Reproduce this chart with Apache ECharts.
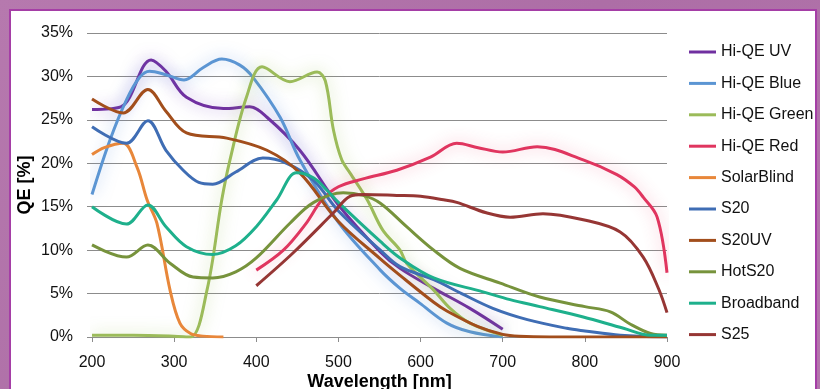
<!DOCTYPE html>
<html>
<head>
<meta charset="utf-8">
<script src="https://cdn.jsdelivr.net/npm/echarts@6/dist/echarts.min.js"></script>
<style>
  html, body { margin: 0; padding: 0; }
  body { width: 820px; height: 389px; overflow: hidden; position: relative;
         background: linear-gradient(135deg, #b679ae 0%, #ad6ea6 50%, #b275ab 100%); }
  #panel { position: absolute; left: 9px; top: 9px; width: 808px; height: 400px;
           background: #ffffff; border: 2.5px solid #a53ea6; box-sizing: border-box; }
  #chart { position: absolute; left: 0; top: 0; width: 820px; height: 389px; }
</style>
</head>
<body>
<div id="panel"></div>
<div id="chart"></div>
<script>
// ---- data (wavelength nm, QE %) ----
const seriesNames = ['Hi-QE UV','Hi-QE Blue','Hi-QE Green','Hi-QE Red','SolarBlind','S20','S20UV','HotS20','Broadband','S25'];
const xTicks = [200, 300, 400, 500, 600, 700, 800, 900];
const yTicks = [0, 5, 10, 15, 20, 25, 30, 35];

const hiQeUV = [[200,26.2],[235,26.5],[272,31.9],[290,30.6],[315,27.6],[360,26.3],[392,26.5],[413,25.3],[453,21.5],[500,15.2],[551,9.8],[575,7.9],[616,5.6],[660,3.3],[700,0.9]];
const hiQeBlue = [[200,16.4],[222,22.7],[242,27.3],[258,29.9],[270,30.6],[290,30.2],[312,29.6],[335,31],[358,32],[380,31.3],[396,29.9],[429,25.3],[453,20.4],[500,13.2],[551,7.7],[575,5.6],[599,3.9],[632,1.6],[660,0.6],[700,0]];
const hiQeGreen = [[200,0.2],[250,0.2],[300,0.1],[320,0],[340,5.4],[358,15.8],[368,20.4],[388,27.6],[407,31.1],[441,29.4],[474,30.5],[484,29.5],[494,23.8],[504,20.4],[514,18.9],[535,15.8],[554,12.3],[575,10],[583,8.5],[616,5.4],[636,3.3],[660,1.6],[700,0.2]];
const hiQeRed = [[400,7.7],[433,10],[460,13],[480,15.8],[500,17.3],[530,18.2],[571,19.2],[612,20.7],[644,22.3],[670,21.8],[700,21.3],[742,21.9],[798,20.4],[839,18.7],[860,17.3],[871,16.1],[888,13.8],[900,7.4]];
const solarBlind = [[200,21],[215,21.8],[238,22.3],[255,19.5],[267,15.8],[279,13.1],[295,5.4],[307,1.6],[320,0.4],[335,0.1],[360,0]];
const s20 = [[200,24.2],[242,22.3],[268,24.9],[290,21.5],[311,19.2],[330,17.8],[347,17.6],[375,19],[408,20.6],[437,20],[470,18],[500,14.5],[551,10],[575,8.1],[616,6.6],[650,5],[688,3.3],[730,2],[778,1],[800,0.7],[843,0.2],[900,0]];
const s20uv = [[200,27.4],[238,25.8],[268,28.5],[290,26],[315,23.5],[364,22.9],[413,21.5],[453,18.9],[500,13.3],[551,9],[575,7.1],[616,4],[632,3.0],[670,1.2],[700,0.3],[720,0.1],[800,0],[900,0]];
const hotS20 = [[200,10.6],[242,9.2],[268,10.6],[295,8.5],[323,6.9],[347,6.8],[375,7.5],[400,9.1],[441,13.1],[470,15.5],[506,16.6],[530,16.3],[551,15.4],[583,12.7],[616,10],[648,7.9],[697,6.2],[745,4.6],[800,3.5],[831,2.9],[855,1.5],[880,0.4],[900,0.2]];
const broadband = [[200,15],[242,13],[268,15.2],[290,12.7],[315,10.4],[347,9.5],[375,10.5],[400,12.7],[425,15.8],[449,18.9],[470,18.3],[486,16.9],[500,15.5],[551,11],[575,9.1],[616,6.8],[676,5.2],[709,4.3],[745,3.5],[798,2.3],[847,1],[880,0.2],[900,0.2]];
const s25 = [[400,5.9],[445,9.7],[494,14.3],[514,16.2],[530,16.4],[571,16.3],[600,16.2],[628,15.8],[644,15.5],[680,14.3],[709,13.8],[749,14.2],[798,13.5],[843,12.1],[871,9.2],[890,5.5],[900,2.8]];

const seriesData = [hiQeUV, hiQeBlue, hiQeGreen, hiQeRed, solarBlind, s20, s20uv, hotS20, broadband, s25];
const colors = ['#7030a0','#5b95d3','#9bbb59','#e0355f','#e8873a','#3f6db4','#a24e1c','#77933c','#1eb08c','#963634'];
const glow = [true, true, true, true, false, false, false, false, false, false];
const glowColors = ['rgba(120,70,190,0.55)','rgba(90,140,220,0.55)','rgba(150,190,80,0.55)','rgba(235,70,110,0.45)'];

const chart = echarts.init(document.getElementById('chart'), null, {renderer: 'canvas'});
const FONT = 'Liberation Sans';

const series = seriesNames.map((name, i) => ({
  name: name,
  type: 'line',
  data: seriesData[i],
  smooth: 0.35,
  symbol: 'none',
  z: glow[i] ? 2 : 3,
  lineStyle: Object.assign({ width: 3, color: colors[i] },
    glow[i] ? { shadowBlur: 15, shadowColor: glowColors[i] } : {}),
  itemStyle: { color: colors[i] },
  emphasis: { disabled: true }
}));

chart.setOption({
  animation: false,
  backgroundColor: 'transparent',
  grid: { left: 92, right: 153, top: 33, bottom: 52, containLabel: false, outerBoundsMode: 'none' },
  xAxis: {
    type: 'value', min: 200, max: 900, interval: 100,
    name: 'Wavelength [nm]', nameLocation: 'middle', nameGap: 36, nameMoveOverlap: false,
    nameTextStyle: { fontFamily: FONT, fontSize: 18, fontWeight: 'bold', color: '#000' },
    axisLine: { show: true, lineStyle: { color: '#8c8c8c', width: 1 } },
    axisTick: { show: true, length: 5, lineStyle: { color: '#8c8c8c' } },
    axisLabel: { fontFamily: FONT, fontSize: 16, color: '#111', margin: 18,
      formatter: v => xTicks.includes(v) ? String(v) : '' },
    splitLine: { show: false }
  },
  yAxis: {
    type: 'value', min: 0, max: 35, interval: 5,
    name: 'QE [%]', nameLocation: 'middle', nameGap: 58, nameRotate: 90, nameMoveOverlap: false,
    nameTextStyle: { fontFamily: FONT, fontSize: 18, fontWeight: 'bold', color: '#000' },
    axisLine: { show: false },
    axisTick: { show: true, length: 5, lineStyle: { color: '#8c8c8c' } },
    axisLabel: { fontFamily: FONT, fontSize: 16, color: '#111', margin: 19,
      formatter: v => yTicks.includes(v) ? v + '%' : '' },
    splitLine: { show: true, lineStyle: { color: '#8c8c8c', width: 1 } }
  },
  legend: {
    orient: 'vertical', left: 684, top: 39,
    itemWidth: 27, itemHeight: 3, itemGap: 15.4, icon: 'rect',
    textStyle: { fontFamily: FONT, fontSize: 16, color: '#111', lineHeight: 16 },
    data: seriesNames.map((n, i) => ({ name: n, itemStyle: { color: colors[i] } }))
  },
  series: series
});
</script>
</body>
</html>
